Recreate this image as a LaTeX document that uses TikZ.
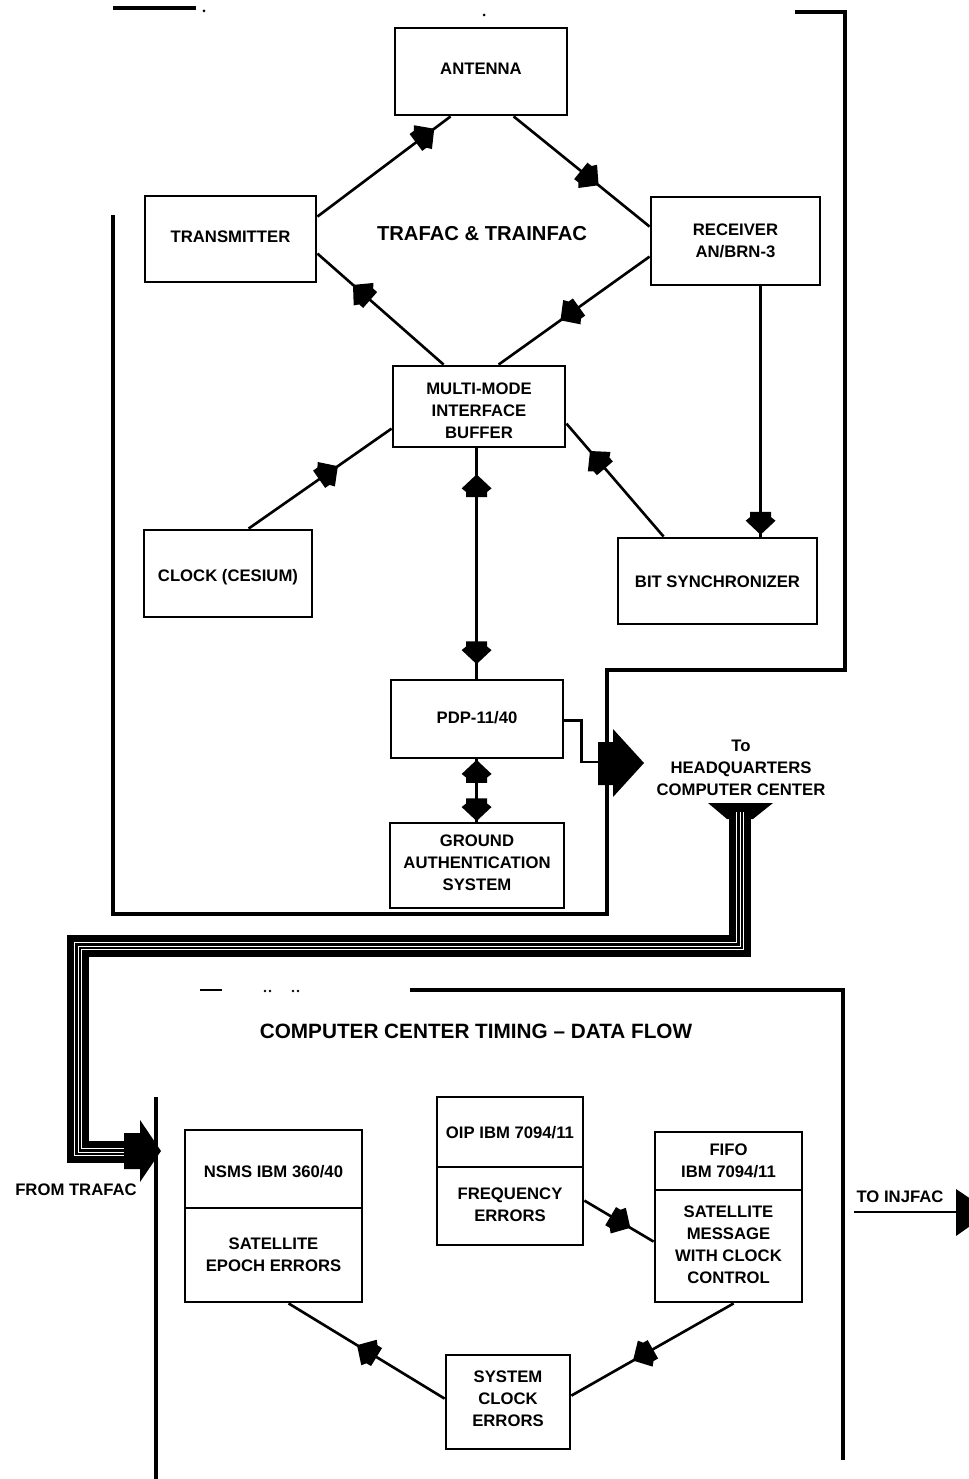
\documentclass[tikz,border=0pt]{standalone}
\usepackage{fontspec}
\setmainfont{Liberation Sans}
\usetikzlibrary{calc,fit,decorations.markings}
\newcommand\lblfont{\fontsize{9.5}{12.5}\selectfont\bfseries}
\tikzset{
  box/.style={draw, line width=1.6pt, inner sep=0pt},
  lbl/.style={align=center, font=\lblfont},
  conn/.style={line width=1.5pt},
  frame/.style={line width=2.8pt, line join=miter},
  hfwd/.style={postaction={decorate,decoration={markings,
      mark=at position #1 with {\fill (7.5pt,0pt) -- (-0.5pt,8.5pt) -- (-2.5pt,6pt) -- (-5.5pt,6pt) -- (-5.5pt,-6pt) -- (-2.5pt,-6pt) -- (-0.5pt,-8.5pt) -- cycle;}}}},
  hbwd/.style={postaction={decorate,decoration={markings,
      mark=at position #1 with {\fill (-7.5pt,0pt) -- (0.5pt,8.5pt) -- (2.5pt,6pt) -- (5.5pt,6pt) -- (5.5pt,-6pt) -- (2.5pt,-6pt) -- (0.5pt,-8.5pt) -- cycle;}}}}
}
% #1 name, #2 fit points, #3 text shift, #4 text
\newcommand\bx[4]{\node[box, fit={#2}, label={[lbl, yshift=#3]center:{#4}}] (#1) {};}
\begin{document}
\begin{tikzpicture}[x=0.02cm,y=-0.02cm]
\useasboundingbox (0,0) rectangle (969,1479);
\fill[white] (0,0) rectangle (969,1479);

% ---------- upper system ----------
\bx{ant}{(395,28) (567,115)}{0.06cm}{ANTENNA}
\bx{tx}{(145,196) (316,282)}{0.04cm}{TRANSMITTER}
\bx{rx}{(651,197) (820,285)}{0cm}{RECEIVER\\AN/BRN-3}
\bx{mmib}{(393,366) (565,447)}{-0.08cm}{MULTI-MODE\\INTERFACE\\BUFFER}
\bx{clk}{(144,530) (312,617)}{-0.08cm}{CLOCK (CESIUM)}
\bx{bits}{(618,538) (817,624)}{-0.02cm}{BIT SYNCHRONIZER}
\bx{pdp}{(391,680) (563,758)}{0.02cm}{PDP-11/40}
\bx{gas}{(390,823) (564,908)}{0.06cm}{GROUND\\AUTHENTICATION\\SYSTEM}
\node[font=\fontsize{11.5}{14}\selectfont\bfseries] (trafac) at (482,234) {TRAFAC \& TRAINFAC};
\node[lbl] (hq) at (741,768) {To\\HEADQUARTERS\\COMPUTER CENTER};

\draw[conn, hfwd=0.8] ($(tx.north east)+(0,22)$) -- ($(ant.south west)+(57,0)$);
\draw[conn, hfwd=0.55] ($(ant.south west)+(120,0)$) -- ($(rx.north west)+(0,31)$);
\draw[conn, hfwd=0.64] ($(mmib.north west)+(52,0)$) -- ($(tx.north east)+(0,59)$);
\draw[conn, hfwd=0.52] ($(rx.north west)+(0,61)$) -- ($(mmib.north west)+(107,0)$);
\draw[conn, hfwd=0.55] ($(clk.north west)+(106,0)$) -- ($(mmib.north west)+(0,64)$);
\draw[conn, hfwd=0.67] ($(bits.north west)+(47,0)$) -- ($(mmib.north east)+(0,59)$);
\draw[conn, hfwd=0.94] ($(rx.south west)+(111,0)$) -- ($(bits.north west)+(144,0)$);
\draw[conn, hbwd=0.17, hfwd=0.88] ($(mmib.south west)+(85,0)$) -- ($(pdp.north west)+(87,0)$);
\draw[conn, hbwd=0.22, hfwd=0.78] ($(pdp.south west)+(87,0)$) -- ($(gas.north west)+(88,0)$);

% frame of upper system
\draw[frame] (795,12) -- (845,12) -- (845,670) -- (607,670) -- (607,914) -- (113,914) -- (113,215);
\draw[line width=1.8pt] (113,8) -- (196,8);
\fill (204,11) circle (1.5);
\fill (484,15) circle (1.5);

% PDP output to headquarters
\coordinate (pa) at (603,762);
\draw[conn] ($(pdp.north east)+(0,42)$) -- ++(17,0) |- (pa);
\fill (598,742) -- (613,742) -- (613,729) -- (644,763) -- (613,797) -- (613,785) -- (598,785) -- cycle;

% data bus to computer center
\fill (708,803) -- (773,803) -- (753,819) -- (727,819) -- cycle;
\coordinate (b0) at (740,812);
\coordinate (b1) at (740,946);
\coordinate (b2) at (78,946);
\coordinate (b3) at (78,1152);
\coordinate (b4) at (130,1152);
\foreach \w/\c in {12pt/black, 5pt/white, 3.8pt/black, 0.5pt/white}
  \draw[line width=\w, \c] (b0) -- (b1) -- (b2) -- (b3) -- (b4);
\fill (124,1133) -- (140,1133) -- (140,1120) -- (161,1151) -- (140,1182) -- (140,1169) -- (124,1169) -- cycle;
\node[lbl] (from) at (76,1190) {FROM TRAFAC};

% ---------- computer center ----------
\draw[frame] (410,990) -- (843,990) -- (843,1460);
\draw[frame] (156,1097) -- (156,1479);
\draw[line width=1.6pt] (200,990) -- (222,990);
\fill (265,991) circle (1.3);
\fill (270,991) circle (1.3);
\fill (293,991) circle (1.3);
\fill (298,991) circle (1.3);
\node[font=\fontsize{11.8}{14}\selectfont\bfseries] (title) at (476,1031) {COMPUTER CENTER TIMING – DATA FLOW};

\bx{nsmsT}{(185,1130) (362,1208)}{-0.06cm}{NSMS IBM 360/40}
\bx{nsmsB}{(185,1208) (362,1302)}{0cm}{SATELLITE\\EPOCH ERRORS}
\bx{oipT}{(437,1097) (583,1167)}{-0.02cm}{OIP IBM 7094/11}
\bx{oipB}{(437,1167) (583,1245)}{0.02cm}{FREQUENCY\\ERRORS}
\bx{fifoT}{(655,1132) (802,1190)}{0cm}{FIFO\\IBM 7094/11}
\bx{fifoB}{(655,1190) (802,1302)}{0.02cm}{SATELLITE\\MESSAGE\\WITH CLOCK\\CONTROL}
\bx{sce}{(446,1355) (570,1449)}{0.06cm}{SYSTEM\\CLOCK\\ERRORS}

\draw[conn, hfwd=0.49] ($(sce.north west)+(0,45)$) -- ($(nsmsB.south west)+(105,0)$);
\draw[conn, hfwd=0.55] ($(fifoB.south west)+(80,0)$) -- ($(sce.north east)+(0,42)$);
\draw[conn, hfwd=0.5] ($(oipB.north east)+(0,35)$) -- ($(fifoB.north west)+(0,53)$);

% to INJFAC
\node[lbl] (inj) at (900,1197) {TO INJFAC};
\coordinate (is) at (854,1212);
\coordinate (ie) at (958,1212);
\draw[conn] (is) -- (ie);
\fill (956,1189) -- (990,1212) -- (956,1236) -- cycle;
\end{tikzpicture}
\end{document}
